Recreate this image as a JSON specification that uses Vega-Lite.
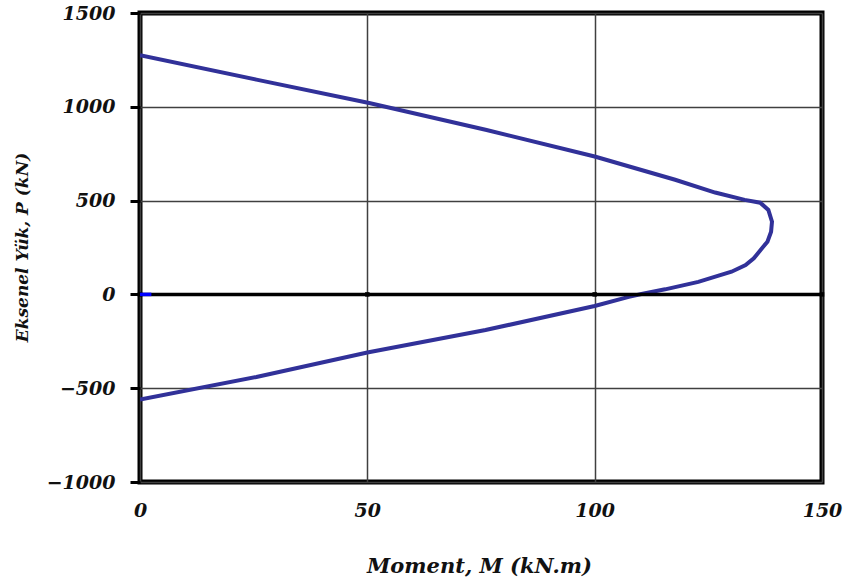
{
  "$schema": "https://vega.github.io/schema/vega-lite/v6.json",
  "width": 682,
  "height": 469,
  "autosize": "none",
  "padding": {"left": 140, "top": 13, "right": 22, "bottom": 99},
  "background": "white",
  "view": {"stroke": "black", "strokeWidth": 5},
  "datasets": {
    "curve": [
      {"i": 1, "M": 0, "P": 1275},
      {"i": 2, "M": 25.6, "P": 1145},
      {"i": 3, "M": 50.4, "P": 1020},
      {"i": 4, "M": 76, "P": 878},
      {"i": 5, "M": 100, "P": 735},
      {"i": 6, "M": 117.7, "P": 611},
      {"i": 7, "M": 126.5, "P": 543},
      {"i": 8, "M": 133, "P": 504},
      {"i": 9, "M": 136.4, "P": 489},
      {"i": 10, "M": 138.2, "P": 450},
      {"i": 11, "M": 139, "P": 388},
      {"i": 12, "M": 138.8, "P": 334},
      {"i": 13, "M": 138, "P": 281},
      {"i": 14, "M": 136.8, "P": 246},
      {"i": 15, "M": 135, "P": 192},
      {"i": 16, "M": 133.2, "P": 156},
      {"i": 17, "M": 130.1, "P": 121},
      {"i": 18, "M": 122.8, "P": 67},
      {"i": 19, "M": 115.5, "P": 27},
      {"i": 20, "M": 110.3, "P": 2},
      {"i": 21, "M": 107.5, "P": -13},
      {"i": 22, "M": 100, "P": -62},
      {"i": 23, "M": 76, "P": -190},
      {"i": 24, "M": 50, "P": -310},
      {"i": 25, "M": 25.6, "P": -440},
      {"i": 26, "M": 0, "P": -561}
    ],
    "zero": [{"P": 0}],
    "zeroticks": [{"M": 0, "P": 0}, {"M": 50, "P": 0}, {"M": 100, "P": 0}, {"M": 150, "P": 0}],
    "bluebit": [{"M": 0, "M2": 2.5, "P": 0}]
  },
  "layer": [
    {
      "data": {"name": "curve"},
      "mark": {"type": "line", "color": "#313199", "strokeWidth": 4, "clip": true},
      "encoding": {
        "x": {
          "field": "M", "type": "quantitative",
          "scale": {"domain": [0, 150], "nice": false, "zero": false},
          "axis": {
            "values": [0, 50, 100, 150],
            "format": "d",
            "title": "Moment, M (kN.m)",
            "grid": true, "gridColor": "#404040", "gridWidth": 1.5, "gridOpacity": 1,
            "domain": false, "ticks": false, "labelFlush": false,
            "labelPadding": 19,
            "labelFont": "DejaVu Serif", "labelFontSize": 19, "labelFontWeight": "bold", "labelFontStyle": "italic", "labelColor": "#111111",
            "titleFont": "DejaVu Serif", "titleFontSize": 21, "titleFontWeight": "bold", "titleFontStyle": "italic", "titleColor": "#111111",
            "titleX": 339, "titleY": 84, "titleBaseline": "middle", "titleAlign": "center"
          }
        },
        "y": {
          "field": "P", "type": "quantitative",
          "scale": {"domain": [-1000, 1500], "nice": false, "zero": false},
          "axis": {
            "values": [-1000, -500, 0, 500, 1000, 1500],
            "format": "d",
            "title": "Eksenel Yük, P (kN)",
            "grid": true, "gridColor": "#404040", "gridWidth": 1.5, "gridOpacity": 1,
            "domain": false, "ticks": true, "tickSize": 10, "tickWidth": 3, "tickColor": "black",
            "labelPadding": 15, "labelFlush": false,
            "labelFont": "DejaVu Serif", "labelFontSize": 19, "labelFontWeight": "bold", "labelFontStyle": "italic", "labelColor": "#111111",
            "titleFont": "DejaVu Serif", "titleFontSize": 17, "titleFontWeight": "bold", "titleFontStyle": "italic", "titleColor": "#111111",
            "titleX": -118, "titleY": 234, "titleBaseline": "middle", "titleAlign": "center", "titleAngle": -90
          }
        },
        "order": {"field": "i", "type": "quantitative"}
      }
    },
    {
      "data": {"name": "zero"},
      "mark": {"type": "rule", "color": "black", "strokeWidth": 3.5},
      "encoding": {"y": {"field": "P", "type": "quantitative"}}
    },
    {
      "data": {"name": "zeroticks"},
      "mark": {"type": "point", "shape": "square", "filled": true, "color": "black", "size": 20, "opacity": 1},
      "encoding": {
        "x": {"field": "M", "type": "quantitative"},
        "y": {"field": "P", "type": "quantitative"}
      }
    },
    {
      "data": {"name": "bluebit"},
      "mark": {"type": "rule", "color": "#0000ff", "strokeWidth": 3.5},
      "encoding": {
        "x": {"field": "M", "type": "quantitative"},
        "x2": {"field": "M2"},
        "y": {"field": "P", "type": "quantitative"}
      }
    }
  ]
}
